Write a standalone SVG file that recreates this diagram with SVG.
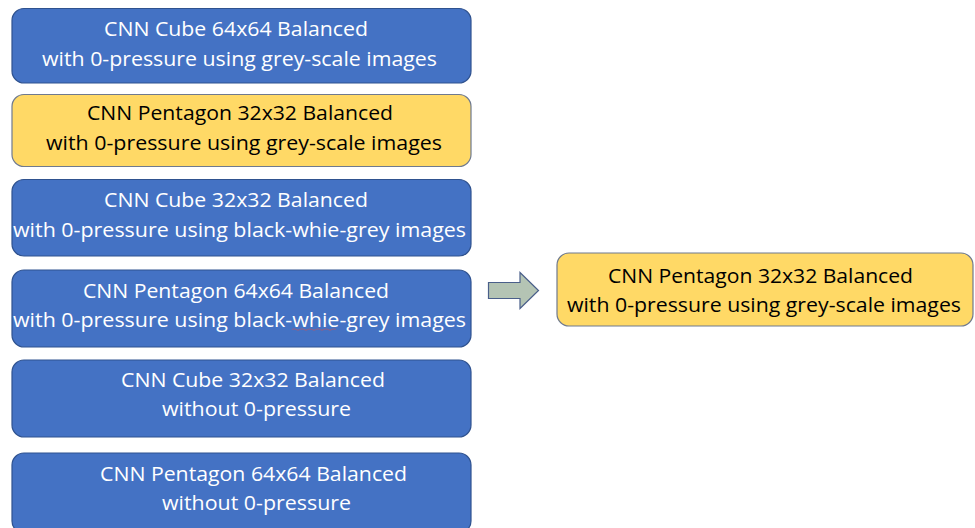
<svg xmlns="http://www.w3.org/2000/svg" width="975" height="528" viewBox="0 0 975 528">
<style>
.blue{fill:#4472C4;stroke:#2F528F;stroke-width:1.2}
.yel{fill:#FFD966;stroke:#6F7A8F;stroke-width:1.2}
text{font-family:"Open Sans","Noto Sans","Liberation Sans",sans-serif;font-size:20px;text-anchor:middle}
.w{fill:#FFFFFF}
.k{fill:#000000}
</style>
<rect width="975" height="528" fill="#FFFFFF"/>
<g id="n1"><rect class="blue" x="12" y="8.5" width="459" height="74.5" rx="12"/>
<text class="w" x="236" y="36" textLength="264" lengthAdjust="spacingAndGlyphs">CNN Cube 64x64 Balanced</text>
<text class="w" x="239.5" y="66" textLength="395" lengthAdjust="spacingAndGlyphs">with 0-pressure using grey-scale images</text></g>
<g id="n2"><rect class="yel" x="12" y="94.5" width="459" height="72" rx="12"/>
<text class="k" x="240" y="120" textLength="306" lengthAdjust="spacingAndGlyphs">CNN Pentagon 32x32 Balanced</text>
<text class="k" x="244" y="149.5" textLength="396" lengthAdjust="spacingAndGlyphs">with 0-pressure using grey-scale images</text></g>
<g id="n3"><rect class="blue" x="12" y="179.5" width="459" height="76.5" rx="12"/>
<text class="w" x="236" y="207" textLength="264" lengthAdjust="spacingAndGlyphs">CNN Cube 32x32 Balanced</text>
<text class="w" x="239.5" y="237" textLength="453" lengthAdjust="spacingAndGlyphs">with 0-pressure using black-whie-grey images</text></g>
<g id="n4"><rect class="blue" x="12" y="270" width="459" height="77" rx="12"/>
<text class="w" x="236" y="297.5" textLength="306" lengthAdjust="spacingAndGlyphs">CNN Pentagon 64x64 Balanced</text>
<text class="w" x="239.5" y="327" textLength="453" lengthAdjust="spacingAndGlyphs">with 0-pressure using black-whie-grey images</text>
<path d="M292 329.5 q2 -1.5 4 0 t4 0 t4 0 t4 0 t4 0 t4 0 t4 0 t4 0 t4 0 t4 0 t4 0" fill="none" stroke="#D05050" stroke-width="0.8" opacity="0.7"/></g>
<g id="n5"><rect class="blue" x="12" y="360" width="459" height="77" rx="12"/>
<text class="w" x="253" y="387" textLength="264" lengthAdjust="spacingAndGlyphs">CNN Cube 32x32 Balanced</text>
<text class="w" x="256.5" y="416" textLength="189" lengthAdjust="spacingAndGlyphs">without 0-pressure</text></g>
<g id="n6"><rect class="blue" x="12" y="453" width="459" height="80" rx="12"/>
<text class="w" x="253.5" y="480.5" textLength="307" lengthAdjust="spacingAndGlyphs">CNN Pentagon 64x64 Balanced</text>
<text class="w" x="256.5" y="510" textLength="189" lengthAdjust="spacingAndGlyphs">without 0-pressure</text></g>
<g id="n7"><rect class="yel" x="557" y="253" width="416" height="73" rx="12"/>
<text class="k" x="760.5" y="282.5" textLength="305" lengthAdjust="spacingAndGlyphs">CNN Pentagon 32x32 Balanced</text>
<text class="k" x="764" y="312" textLength="394" lengthAdjust="spacingAndGlyphs">with 0-pressure using grey-scale images</text></g>
<g id="connectors">
<path d="M488.5 282.5 H520 V272.5 L538.5 290.5 L520 308.5 V298.5 H488.5 Z" fill="#B4C4B4" stroke="#4A5F8A" stroke-width="1.2"/>
</g>
</svg>
